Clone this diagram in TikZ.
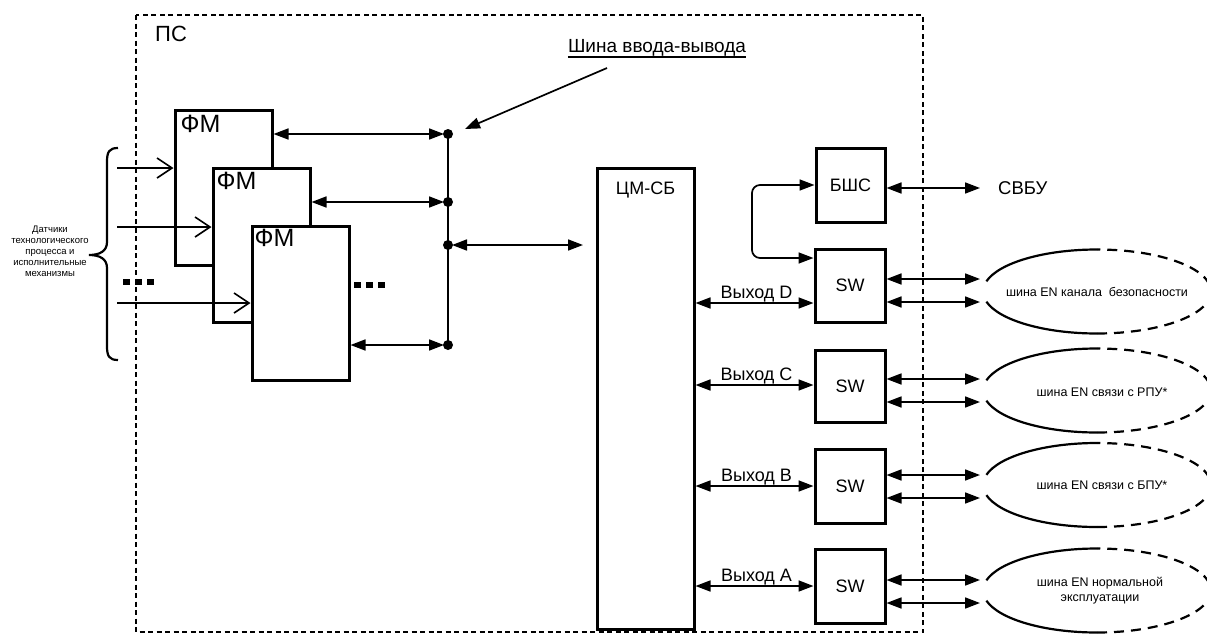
\documentclass[tikz,border=0pt]{standalone}
\usepackage{fontspec}
\setmainfont{Liberation Sans}
\usetikzlibrary{arrows.meta,calc}
\begin{document}
\begin{tikzpicture}[x=1pt,y=-1pt,
  box/.style={draw, line width=3pt, fill=white, inner sep=0pt},
  boxlabel/.style={font=\fontsize{18}{18}\selectfont, inner sep=0pt},
  fmlabel/.style={font=\fontsize{25}{25}\selectfont, inner sep=0pt, anchor=north west},
  tip/.tip={Triangle[length=15pt,width=11pt]},
  biarrow/.style={line width=1.7pt, tip-tip},
  onearrow/.style={line width=1.7pt, -tip},
  inarrow/.style={line width=1.6pt, -{Straight Barb[length=15pt,width=20pt,line width=1.6pt]}},
  busline/.style={line width=2.2pt},
  busdot/.style={circle, fill=black, inner sep=0pt, minimum size=10pt},
  frame/.style={line width=1.8pt, dash pattern=on 5pt off 3.5pt},
  ellsolid/.style={line width=2.2pt},
  elldash/.style={line width=2.2pt, dash pattern=on 10pt off 7pt},
  elltext/.style={font=\fontsize{12.5}{14.5}\selectfont, align=center, inner sep=0pt},
  outlabel/.style={font=\fontsize{18}{18}\selectfont, inner sep=0.5pt, above}
]
\useasboundingbox (0,0) rectangle (1207,637);

% enclosing system frame
\draw[frame] (136,15) rectangle (923,632);
\node[font=\fontsize{22}{22}\selectfont, inner sep=0pt, anchor=base west] (ps) at (155,41) {ПС};

% I/O bus caption
\node[font=\fontsize{19}{19}\selectfont, inner sep=0pt, anchor=base] (shina) at (657,52) {Шина ввода-вывода};
\draw[line width=1.3pt] ([yshift=-5pt]shina.base west) -- ([yshift=-5pt]shina.base east);
\coordinate (shfrom) at (607,68);
\coordinate (shto) at (465,129);
\draw[onearrow] (shfrom) -- (shto);

% function modules
\node[box, minimum width=97pt, minimum height=155pt] (fm1) at (223.5,187.5) {};
\node[fmlabel] (fm1l) at ($(fm1.north west)+(7,6)$) {ФМ};
\node[box, minimum width=97pt, minimum height=154pt] (fm2) at (261.5,245) {};
\node[fmlabel] (fm2l) at ($(fm2.north west)+(5,5)$) {ФМ};
\node[box, minimum width=97pt, minimum height=154pt] (fm3) at (300.5,303) {};
\node[fmlabel] (fm3l) at ($(fm3.north west)+(4,4)$) {ФМ};

% sensors and actuators
\node[font=\fontsize{9.5}{11}\selectfont, align=center, inner sep=0pt] (sensors) at (50,251)
  {Датчики\\технологического\\процесса и\\исполнительные\\механизмы};
\draw[line width=2.2pt] (118,148) .. controls (109,148) and (107,152) .. (107,162) -- (107,242)
  .. controls (107,251) and (100,255) .. (89,255) .. controls (100,255) and (107,259) .. (107,268)
  -- (107,346) .. controls (107,356) and (109,360) .. (118,360);
\coordinate (in1) at (117,168);
\coordinate (in2) at (117,227);
\coordinate (in3) at (117,303);
\draw[inarrow] (in1) -- (fm1.west |- in1);
\draw[inarrow] (in2) -- (fm2.west |- in2);
\draw[inarrow] (in3) -- (fm3.west |- in3);
\foreach \x in {123,135,147} \fill (\x,279) rectangle ++(6.5,5.5);
\foreach \x in {354,366,378} \fill (\x,282) rectangle ++(7,6);

% I/O bus
\coordinate (b1) at (448,134);
\coordinate (b2) at (448,202);
\coordinate (b3) at (448,245);
\coordinate (b4) at (448,345);
\draw[busline] (b1) -- (b4);
\draw[biarrow, shorten >=4pt] (fm1.east |- b1) -- (b1);
\draw[biarrow, shorten >=4pt] (fm2.east |- b2) -- (b2);
\draw[biarrow, shorten >=4pt] (fm3.east |- b4) -- (b4);
\coordinate (cmin) at (583,245);
\draw[biarrow, shorten <=4pt] (b3) -- (cmin);
\foreach \b in {b1,b2,b3,b4} \node[busdot] at (\b) {};

% central module
\node[box, minimum width=97pt, minimum height=461pt] (cm) at (645.5,398.5) {};
\node[boxlabel, anchor=north] (cml) at ([yshift=-15pt]cm.north) {ЦМ-СБ};

% communication unit and switches
\node[box, minimum width=69pt, minimum height=74pt, boxlabel] (bshs) at (850.5,185) {БШС};
\node[box, minimum width=70pt, minimum height=73pt, boxlabel] (sw1) at (850,285.5) {SW};
\node[box, minimum width=70pt, minimum height=72pt, boxlabel] (sw2) at (850,386) {SW};
\node[box, minimum width=70pt, minimum height=74pt, boxlabel] (sw3) at (850,486) {SW};
\node[box, minimum width=70pt, minimum height=74pt, boxlabel] (sw4) at (850,586) {SW};

\coordinate (loopx) at (752,0);
\coordinate (loopy) at (0,258);
\draw[biarrow, rounded corners=8pt] (bshs.west) -- (bshs.west -| loopx) -- (loopx |- loopy) -- (sw1.west |- loopy);

\node[font=\fontsize{18.5}{18.5}\selectfont, inner sep=0pt, anchor=west] (svbu) at (998,188) {СВБУ};
\coordinate (svbuport) at (980,188);
\draw[biarrow] (bshs.east |- svbuport) -- (svbuport);

% outputs of the central module
\coordinate (oD) at (754,303);
\coordinate (oC) at (754,385);
\coordinate (oB) at (754,486);
\coordinate (oA) at (754,586);
\draw[biarrow] (cm.east |- oD) -- (sw1.west |- oD) node[outlabel, midway, xshift=2pt] {Выход D};
\draw[biarrow] (cm.east |- oC) -- (sw2.west |- oC) node[outlabel, midway, xshift=2pt] {Выход C};
\draw[biarrow] (cm.east |- oB) -- (sw3.west |- oB) node[outlabel, midway, xshift=2pt] {Выход B};
\draw[biarrow] (cm.east |- oA) -- (sw4.west |- oA) node[outlabel, midway, xshift=2pt] {Выход A};

% Ethernet buses
\coordinate (e1) at (1097,291.5);
\coordinate (e2) at (1097,390.5);
\coordinate (e3) at (1097,485);
\coordinate (e4) at (1097,590.5);
\foreach \e in {e1,e2,e3,e4} {
  \draw[ellsolid] (\e) ++(270:114 and 42) arc[start angle=270, end angle=194, x radius=114, y radius=42];
  \draw[ellsolid] (\e) ++(166:114 and 42) arc[start angle=166, end angle=90, x radius=114, y radius=42];
  \draw[elldash] (\e) ++(90:114 and 42) arc[start angle=90, end angle=-90, x radius=114, y radius=42];
}
\node[elltext] (e1t) at (e1) {шина EN канала\ \ безопасности};
\node[elltext] (e2t) at ($(e2)+(5,2)$) {шина EN связи с РПУ*};
\node[elltext] (e3t) at ($(e3)+(5,0)$) {шина EN связи с БПУ*};
\node[elltext] (e4t) at ($(e4)+(3,0)$) {шина EN нормальной\\эксплуатации};

\coordinate (e1a) at (980,279);
\coordinate (e1b) at (980,302);
\coordinate (e2a) at (980,379);
\coordinate (e2b) at (980,402);
\coordinate (e3a) at (980,475);
\coordinate (e3b) at (980,498);
\coordinate (e4a) at (980,580);
\coordinate (e4b) at (980,603);
\draw[biarrow] (sw1.east |- e1a) -- (e1a);
\draw[biarrow] (sw1.east |- e1b) -- (e1b);
\draw[biarrow] (sw2.east |- e2a) -- (e2a);
\draw[biarrow] (sw2.east |- e2b) -- (e2b);
\draw[biarrow] (sw3.east |- e3a) -- (e3a);
\draw[biarrow] (sw3.east |- e3b) -- (e3b);
\draw[biarrow] (sw4.east |- e4a) -- (e4a);
\draw[biarrow] (sw4.east |- e4b) -- (e4b);
\end{tikzpicture}
\end{document}
